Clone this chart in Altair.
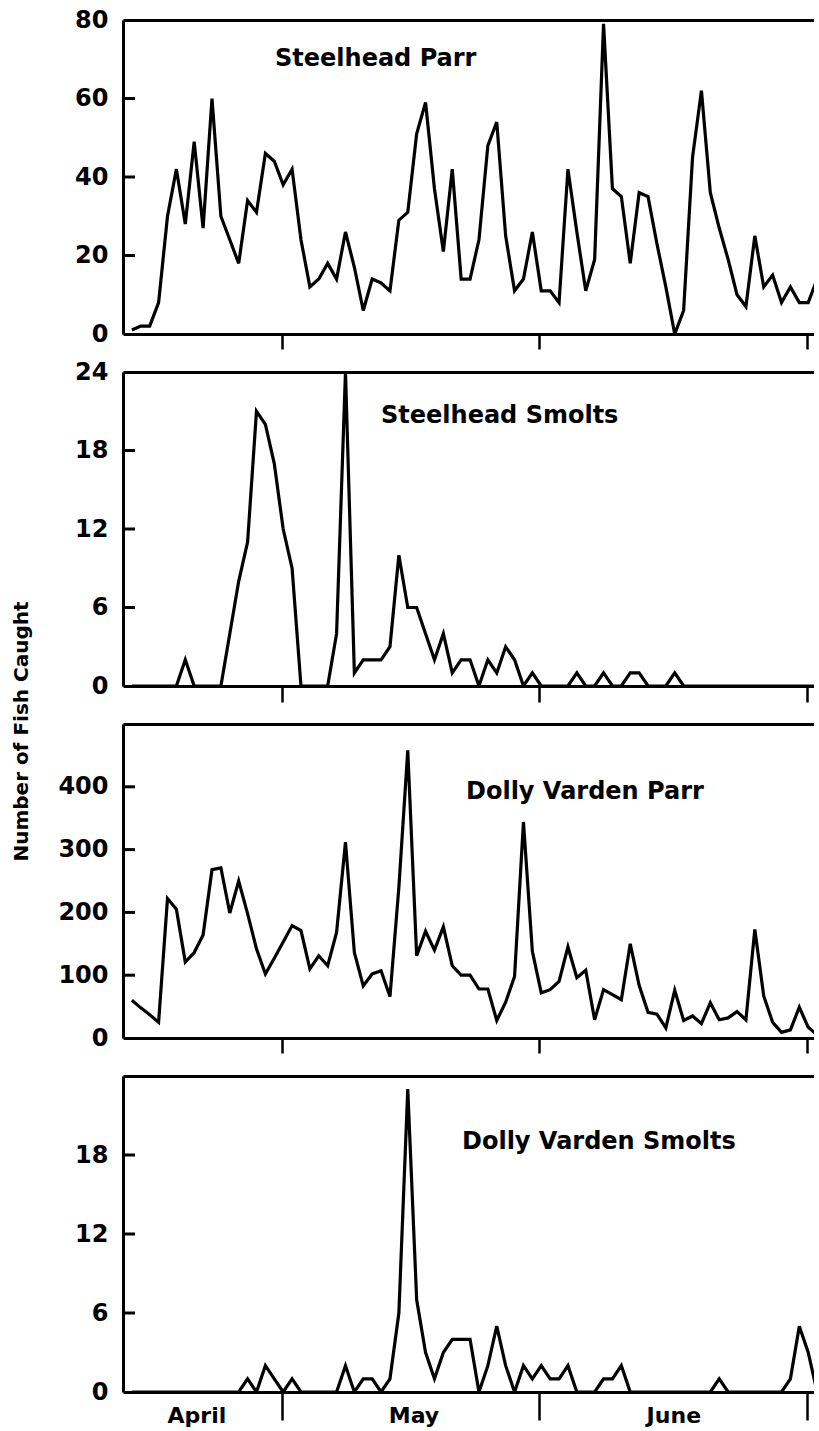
import altair as alt
import pandas as pd

# ---- data (daily counts) ----
days = list(range(78))

steelhead_parr = [1, 2, 2, 8, 30, 42, 28, 49, 27, 60,
                  30, 24, 18, 34, 31, 46, 44, 38, 42, 24,
                  12, 14, 18, 14, 26, 17, 6, 14, 13, 11,
                  29, 31, 51, 59, 37, 21, 42, 14, 14, 24,
                  48, 54, 25, 11, 14, 26, 11, 11, 8, 42,
                  26, 11, 19, 79, 37, 35, 18, 36, 35, 23,
                  12, 0, 6, 45, 62, 36, 27, 19, 10, 7,
                  25, 12, 15, 8, 12, 8, 8, 14]

steelhead_smolts = [0, 0, 0, 0, 0, 0, 2, 0, 0, 0,
                    0, 4, 8, 11, 21, 20, 17, 12, 9, 0,
                    0, 0, 0, 4, 24, 1, 2, 2, 2, 3,
                    10, 6, 6, 4, 2, 4, 1, 2, 2, 0,
                    2, 1, 3, 2, 0, 1, 0, 0, 0, 0,
                    1, 0, 0, 1, 0, 0, 1, 1, 0, 0,
                    0, 1, 0, 0, 0, 0, 0, 0, 0, 0,
                    0, 0, 0, 0, 0, 0, 0, 0]

dolly_parr = [60, 48, 37, 25, 222, 205, 121, 136, 164, 268,
              271, 199, 250, 198, 142, 102, 127, 153, 179, 171,
              110, 131, 115, 168, 312, 136, 83, 102, 107, 66,
              240, 458, 131, 170, 140, 177, 115, 100, 100, 78,
              78, 28, 57, 98, 344, 138, 72, 77, 90, 145,
              96, 108, 29, 77, 69, 61, 150, 84, 41, 38,
              16, 76, 28, 35, 23, 56, 29, 32, 42, 29,
              173, 67, 25, 9, 13, 49, 17, 5]

dolly_smolts = [0, 0, 0, 0, 0, 0, 0, 0, 0, 0,
                0, 0, 0, 1, 0, 2, 1, 0, 1, 0,
                0, 0, 0, 0, 2, 0, 1, 1, 0, 1,
                6, 23, 7, 3, 1, 3, 4, 4, 4, 0,
                2, 5, 2, 0, 2, 1, 2, 1, 1, 2,
                0, 0, 0, 1, 1, 2, 0, 0, 0, 0,
                0, 0, 0, 0, 0, 0, 1, 0, 0, 0,
                0, 0, 0, 0, 1, 5, 3, 0]

month_bounds = [16.9, 45.8, 75.9]
month_names = ["April", "May", "June"]
month_mids = [7.3, 31.7, 60.9]

FONT = "DejaVu Sans"
W = 691
XDOM = [-1.0, 76.65]
SPACING = 38


def panel(values, title, ymax, label_vals, tick_vals, h, tx, ty,
          bottom_tick, months=False, ytitle=None):
    df = pd.DataFrame({"day": days, "count": values})
    xs = alt.Scale(domain=XDOM, nice=False, zero=False)
    ys = alt.Scale(domain=[0, ymax], nice=False, zero=True)

    yaxis_kw = dict(orient="left", values=label_vals, ticks=False, labels=True,
                    labelFont=FONT, labelFontSize=24, labelFontWeight="bold",
                    labelColor="black", labelPadding=15, domain=True,
                    domainColor="black", domainWidth=3, grid=False)
    if ytitle:
        yaxis_kw.update(title=ytitle, titleFont=FONT, titleFontSize=20,
                        titleFontWeight="bold", titleColor="black",
                        titleX=-102, titleY=7, titleAlign="center",
                        titleBaseline="middle", titleAngle=270)
    else:
        yaxis_kw.update(title=None)

    line = alt.Chart(df).mark_line(color="black", strokeWidth=3.2, clip=True).encode(
        x=alt.X("day:Q", scale=xs,
                axis=alt.Axis(orient="bottom", values=month_bounds, labels=False,
                              ticks=True, tickSize=bottom_tick, tickWidth=2.5,
                              tickColor="black", domain=True, domainColor="black",
                              domainWidth=3, grid=False, title=None)),
        y=alt.Y("count:Q", scale=ys, axis=alt.Axis(**yaxis_kw)),
    )

    # top frame line drawn as a second (top) x axis
    frame = alt.Chart(df).mark_line(strokeOpacity=0, clip=True).encode(
        x=alt.X("day:Q", scale=xs,
                axis=alt.Axis(orient="top", labels=False, ticks=False, domain=True,
                              domainColor="black", domainWidth=3, grid=False,
                              title=None)),
        y=alt.Y("count:Q", scale=ys, axis=None),
    )

    # inward y ticks
    tdf = pd.DataFrame({"v": tick_vals})
    ticks = alt.Chart(tdf).mark_rule(color="black", strokeWidth=3).encode(
        y=alt.Y("v:Q", scale=ys, axis=None),
        x=alt.value(0), x2=alt.value(12),
    )

    label = alt.Chart(pd.DataFrame({"t": [title]})).mark_text(
        font=FONT, fontSize=24, fontWeight="bold", color="black",
        align="left", baseline="alphabetic",
    ).encode(text="t:N", x=alt.value(tx), y=alt.value(ty))

    layers = [line, frame, label, ticks]
    if months:
        mdf = pd.DataFrame({"mid": month_mids, "name": month_names})
        mtext = alt.Chart(mdf).mark_text(
            font=FONT, fontSize=22, fontWeight="bold", color="black",
            align="center", baseline="alphabetic",
        ).encode(x=alt.X("mid:Q", scale=xs, axis=None), text="name:N",
                 y=alt.value(h + 31))
        layers.append(mtext)

    return alt.layer(*layers).resolve_axis(x="independent", y="independent").properties(
        width=W, height=h)


p1 = panel(steelhead_parr, "Steelhead Parr", 80, [0, 20, 40, 60, 80], [20, 40, 60],
           314, 152, 46, 15)
p2 = panel(steelhead_smolts, "Steelhead Smolts", 24, [0, 6, 12, 18, 24], [6, 12, 18],
           314, 258, 51, 16)
p3 = panel(dolly_parr, "Dolly Varden Parr", 500, [0, 100, 200, 300, 400],
           [100, 200, 300, 400], 314, 343, 75, 15, ytitle="Number of Fish Caught")
p4 = panel(dolly_smolts, "Dolly Varden Smolts", 24, [0, 6, 12, 18], [6, 12, 18],
           316, 339, 73, 28, months=True)

chart = alt.vconcat(p1, p2, p3, p4, spacing=SPACING, bounds="flush").configure_view(
    stroke=None
).properties(
    padding={"left": 10, "top": 8, "right": 0, "bottom": 0},
    background="white",
)

chart.save("out.html", embed_options={"renderer": "svg", "actions": False})
